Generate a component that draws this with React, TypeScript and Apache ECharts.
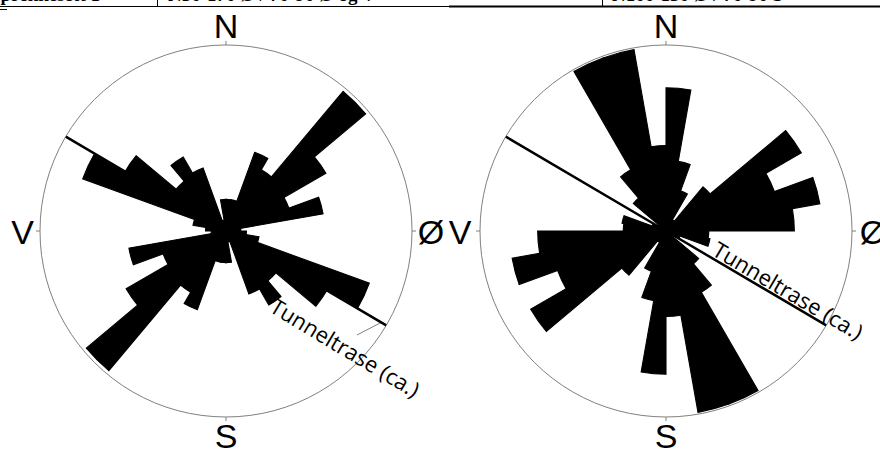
import React, { useEffect, useRef } from "react";
import * as echarts from "echarts";

// 10° strike bins, 0–180° (axial data: each bin also plotted at +180°)
const BIN_LABELS = [
  "0", "10", "20", "30", "40", "50", "60", "70", "80",
  "90", "100", "110", "120", "130", "140", "150", "160", "170",
  "180", "190", "200", "210", "220", "230", "240", "250", "260",
  "270", "280", "290", "300", "310", "320", "330", "340", "350",
];
// petal lengths, % of circle radius
const LEFT_BINS = [17, 17, 45, 38, 98, 62, 36, 53, 8, 11, 18, 82, 63, 35, 46, 36, 6, 17];
const RIGHT_BINS = [77, 38, 23, 7, 31, 84, 62, 84, 69, 23, 24, 8, 5, 23, 38, 99, 99, 46];
const TUNNEL_ANGLE = 120.5;
const COMPASS = ["N", "Ø", "S", "V"];
const HEADER = ["Sprekkesett 1", "N30-170 Ø / 70-90 Ø og V", "N100-130 Ø / 70-90 S"];
const TUNNEL_LABEL = "Tunneltrase (ca.)";

const CY = 231;
const CX_L = 226;
const CX_R = 666;
const R = 186;

export default function App() {
  const ref = useRef<HTMLDivElement>(null);
  useEffect(() => {
    const chart = echarts.init(ref.current!, null, { renderer: "svg" });
    const centers = [CX_L, CX_R];
    const polar = [
      ...centers.map((cx) => ({ center: [cx, CY], radius: R })),
      ...centers.map((cx) => ({ center: [cx, CY], radius: R })),
    ];
    const catAxis = (i: number) => ({
      polarIndex: i,
      type: "category",
      data: BIN_LABELS,
      startAngle: 90,
      clockwise: true,
      boundaryGap: true,
      axisLine: { show: false },
      axisTick: { show: false },
      axisLabel: { show: false },
      splitLine: { show: false },
    });
    const valAxis = (i: number) => ({
      polarIndex: i,
      type: "value",
      min: 0,
      max: 360,
      interval: 90,
      startAngle: 90,
      clockwise: true,
      axisLine: { show: true, lineStyle: { color: "#808080", width: 1 } },
      axisTick: { show: true, length: 4, lineStyle: { color: "#808080", width: 1 } },
      axisLabel: { show: false },
      splitLine: { show: false },
    });
    const radAxis = (i: number) => ({
      polarIndex: i,
      type: "value",
      min: 0,
      max: 100,
      axisLine: { show: false },
      axisTick: { show: false },
      axisLabel: { show: false },
      splitLine: { show: false },
    });
    const bar = (i: number, vals: number[]) => ({
      type: "bar",
      coordinateSystem: "polar",
      polarIndex: i,
      data: [...vals, ...vals],
      barCategoryGap: "0%",
      itemStyle: { color: "#000", borderColor: "#000", borderWidth: 1.1 },
      silent: true,
      z: 3,
    });
    const tunnel = (i: number) => ({
      type: "line",
      coordinateSystem: "polar",
      polarIndex: i,
      data: [
        [100, TUNNEL_ANGLE + 180],
        [0, TUNNEL_ANGLE],
        [100, TUNNEL_ANGLE],
      ],
      symbol: "none",
      lineStyle: { color: "#000", width: 2.5 },
      silent: true,
      z: 4,
    });
    const lbl = (text: string, x: number, y: number) => ({
      type: "text",
      x,
      y,
      style: {
        text,
        font: '34px "Liberation Sans", Arial, sans-serif',
        fill: "#000",
        align: "center",
        verticalAlign: "middle",
        textAlign: "center",
        textVerticalAlign: "middle",
      },
    });
    const rotText = (x: number, y: number, deg: number) => ({
      type: "text",
      x,
      y,
      rotation: (-deg * Math.PI) / 180,
      style: {
        text: TUNNEL_LABEL,
        font: '22px "Open Sans", sans-serif',
        fill: "#000",
        align: "left",
        verticalAlign: "middle",
        textAlign: "left",
        textVerticalAlign: "middle",
      },
      z: 10,
    });
    const hdr = (text: string, x: number) => ({
      type: "text",
      x,
      y: -6,
      style: {
        text,
        font: 'bold 19px "Liberation Serif", serif',
        fill: "#000",
        align: "left",
        verticalAlign: "middle",
        textAlign: "left",
        textVerticalAlign: "middle",
      },
    });
    const ln = (x1: number, y1: number, x2: number, y2: number, w: number, c = "#000") => ({
      type: "line",
      shape: { x1, y1, x2, y2 },
      style: { stroke: c, lineWidth: w },
    });

    chart.setOption({
      animation: false,
      backgroundColor: "#fff",
      polar,
      angleAxis: [catAxis(0), catAxis(1), valAxis(2), valAxis(3)],
      radiusAxis: [radAxis(0), radAxis(1), radAxis(2), radAxis(3)],
      series: [bar(0, LEFT_BINS), bar(1, RIGHT_BINS), tunnel(2), tunnel(3)],
      graphic: [
        hdr(HEADER[0], -10),
        hdr(HEADER[1], 168),
        hdr(HEADER[2], 612),
        ln(0, 6.5, 449, 6.5, 1),
        ln(449, 6.5, 880, 6.5, 2),
        ln(157.5, 0, 157.5, 6, 1),
        ln(602.5, 0, 602.5, 6, 1),
        ln(0, 9.5, 7, 9.5, 1),
        lbl(COMPASS[0], CX_L, 26),
        lbl(COMPASS[2], CX_L, 436),
        lbl(COMPASS[3], 22.5, 232),
        lbl(COMPASS[1], 431, 232),
        lbl(COMPASS[0], CX_R, 26),
        lbl(COMPASS[2], CX_R, 436),
        lbl(COMPASS[3], 460, 232),
        lbl(COMPASS[1], 873, 232),
        ln(357, 335, 382, 322, 1, "#808080"),
        rotText(272.8, 303.4, 31),
        rotText(715.4, 246.7, 30.5),
      ],
    });
    return () => chart.dispose();
  }, []);
  return (
    <div
      ref={ref}
      style={{ position: "absolute", left: 0, top: 0, width: 880, height: 450, background: "#fff" }}
    />
  );
}
